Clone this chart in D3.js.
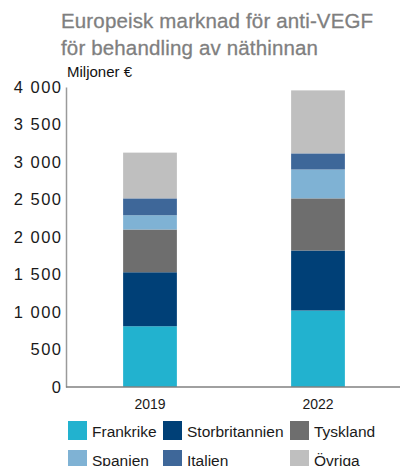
<!DOCTYPE html>
<html>
<head>
<meta charset="utf-8">
<script src="https://cdnjs.cloudflare.com/ajax/libs/d3/7.8.5/d3.min.js"></script>
<style>
  body { margin: 0; background: #fff; }
  text { font-family: "Liberation Sans", Arial, sans-serif; }
</style>
</head>
<body>
<div id="chart"></div>
<script>
var years = ["2019", "2022"];
var countries = ["Frankrike", "Storbritannien", "Tyskland", "Spanien", "Italien", "Övriga"];
var colors = ["#22b2cf", "#004077", "#6e6e6e", "#7fb2d4", "#3e6799", "#bfbfbf"];
var frankrike = [810, 1020];
var storbritannien = [720, 800];
var tyskland = [570, 695];
var spanien = [190, 385];
var italien = [225, 215];
var ovriga = [610, 840];
var yTicks = [0, 500, 1000, 1500, 2000, 2500, 3000, 3500, 4000];

var fullwidth = 400, fullheight = 466;
var margin = {top: 87, right: 0, bottom: 79, left: 66};
var height = fullheight - margin.top - margin.bottom;

var series = [frankrike, storbritannien, tyskland, spanien, italien, ovriga];
var data = years.map(function(y, i) {
    var row = {year: y};
    countries.forEach(function(c, j) { row[c] = series[j][i]; });
    return row;
});

var stacked = d3.stack().keys(countries)(data);

var svg = d3.select("#chart").append("svg")
    .attr("width", fullwidth)
    .attr("height", fullheight);

var xScale = d3.scaleBand()
    .domain(years)
    .range([margin.left, 402])
    .paddingInner(0.68)
    .paddingOuter(0.34);

var yScale = d3.scaleLinear()
    .domain([0, 4000])
    .range([margin.top + height, margin.top]);

var color = d3.scaleOrdinal().domain(countries).range(colors);

// title
var titleLines = ["Europeisk marknad för anti-VEGF", "för behandling av näthinnan"];
svg.append("g").selectAll("text")
    .data(titleLines)
    .enter().append("text")
    .attr("x", 61)
    .attr("y", function(d, i) { return 28 + i * 27; })
    .attr("font-size", "20.5px")
    .attr("letter-spacing", "0.15px")
    .attr("fill", "#7f7f7f")
    .attr("stroke", "#7f7f7f")
    .attr("stroke-width", 0.3)
    .text(function(d) { return d; });

svg.append("text")
    .attr("x", 67).attr("y", 77)
    .attr("font-size", "15px")
    .attr("fill", "#111")
    .text("Miljoner €");

// bars
svg.append("g").selectAll("g")
    .data(stacked)
    .enter().append("g")
    .attr("fill", function(d) { return color(d.key); })
    .selectAll("rect")
    .data(function(d) { return d; })
    .enter().append("rect")
    .attr("x", function(d) { return xScale(d.data.year); })
    .attr("y", function(d) { return yScale(d[1]); })
    .attr("height", function(d) { return yScale(d[0]) - yScale(d[1]); })
    .attr("width", xScale.bandwidth());

// y axis
var yAxis = d3.axisLeft(yScale)
    .tickValues(yTicks)
    .tickSize(0)
    .tickPadding(3.5)
    .tickFormat(function(d) { return d3.format(",")(d).replace(",", " "); });

var gy = svg.append("g")
    .attr("transform", "translate(" + margin.left + ",0)")
    .call(yAxis);
gy.select(".domain").attr("stroke", "#9a9a9a").attr("stroke-width", 1.5);
gy.selectAll("text")
    .attr("font-size", "16.5px")
    .attr("letter-spacing", "1.5px")
    .attr("fill", "#1a1a1a")
    .attr("font-family", "Liberation Sans, Arial, sans-serif");

// x axis
var xAxis = d3.axisBottom(xScale).tickSize(0).tickPadding(12);
var gx = svg.append("g")
    .attr("transform", "translate(0," + (margin.top + height) + ")")
    .call(xAxis);
gx.select(".domain").attr("d", "M" + margin.left + ",0H" + fullwidth)
    .attr("stroke", "#808080").attr("stroke-width", 1.5);
gx.selectAll("text")
    .attr("font-size", "14px")
    .attr("fill", "#1a1a1a")
    .attr("font-family", "Liberation Sans, Arial, sans-serif");

// legend
var legendX = [68, 163, 290];
var legend = svg.append("g").selectAll("g")
    .data(countries)
    .enter().append("g")
    .attr("transform", function(d, i) {
        return "translate(" + legendX[i % 3] + "," + (421 + Math.floor(i / 3) * 29) + ")";
    });
legend.append("rect")
    .attr("width", 19).attr("height", 19)
    .attr("fill", function(d) { return color(d); });
legend.append("text")
    .attr("x", 24).attr("y", 15.5)
    .attr("font-size", "15.5px")
    .attr("fill", "#1a1a1a")
    .text(function(d) { return d; });
</script>
</body>
</html>
